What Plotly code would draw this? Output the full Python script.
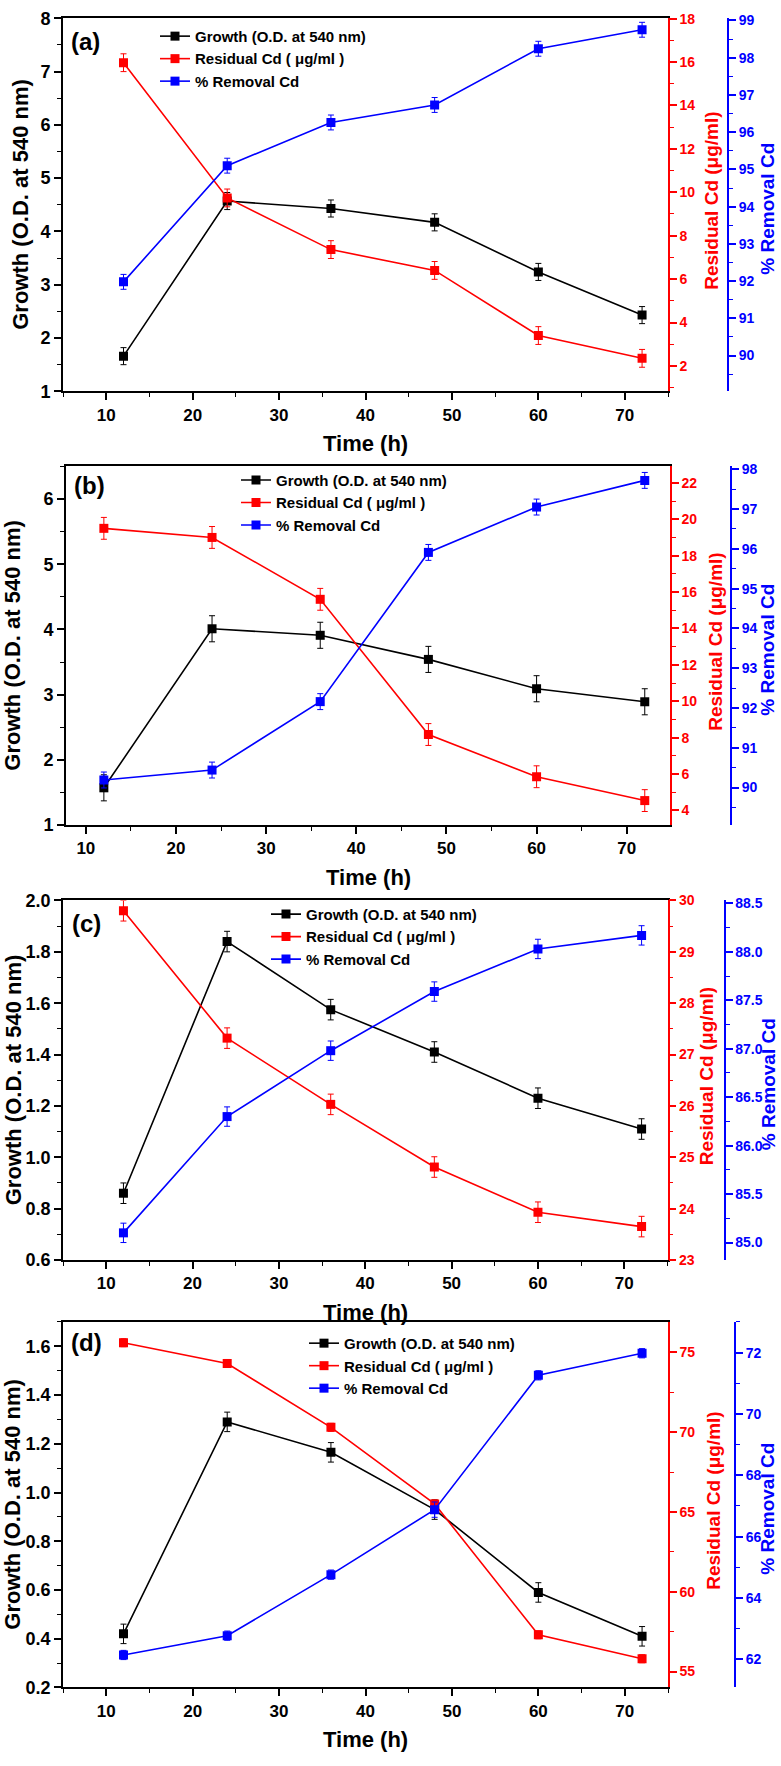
import plotly.graph_objects as go

W, H = 781, 1766

# ---------------- data ----------------
time_h = [12, 24, 36, 48, 60, 72]

a_growth = [1.66, 4.57, 4.43, 4.17, 3.24, 2.43]
a_growth_err = [0.16, 0.16, 0.16, 0.16, 0.16, 0.16]
a_resid = [15.97, 9.74, 7.36, 6.40, 3.40, 2.35]
a_resid_err = [0.41, 0.41, 0.41, 0.41, 0.41, 0.41]
a_removal = [91.98, 95.10, 96.26, 96.73, 98.24, 98.75]
a_removal_err = [0.2, 0.2, 0.2, 0.2, 0.2, 0.2]

b_growth = [1.57, 4.01, 3.91, 3.54, 3.09, 2.89]
b_growth_err = [0.2, 0.2, 0.2, 0.2, 0.2, 0.2]
b_resid = [19.5, 19.0, 15.6, 8.17, 5.85, 4.54]
b_resid_err = [0.6, 0.6, 0.6, 0.6, 0.6, 0.6]
b_removal = [90.19, 90.44, 92.16, 95.91, 97.05, 97.72]
b_removal_err = [0.2, 0.2, 0.2, 0.2, 0.2, 0.2]

c_growth = [0.86, 1.84, 1.575, 1.41, 1.23, 1.11]
c_growth_err = [0.04, 0.04, 0.04, 0.04, 0.04, 0.04]
c_resid = [29.8, 27.32, 26.03, 24.81, 23.93, 23.65]
c_resid_err = [0.2, 0.2, 0.2, 0.2, 0.2, 0.2]
c_removal = [85.10, 86.30, 86.98, 87.59, 88.03, 88.17]
c_removal_err = [0.1, 0.1, 0.1, 0.1, 0.1, 0.1]

d_growth = [0.42, 1.29, 1.165, 0.93, 0.59, 0.41]
d_growth_err = [0.04, 0.04, 0.04, 0.04, 0.04, 0.04]
d_resid = [75.6, 74.3, 70.3, 65.5, 57.3, 55.8]
d_resid_err = [0.25, 0.25, 0.25, 0.25, 0.25, 0.25]
d_removal = [62.14, 62.77, 64.76, 66.88, 71.26, 71.98]
d_removal_err = [0.15, 0.15, 0.15, 0.25, 0.15, 0.15]

panel_labels = ["(a)", "(b)", "(c)", "(d)"]
series_names = ["Growth (O.D. at 540 nm)", "Residual Cd ( \u03bcg/ml )", "% Removal Cd"]
x_title = "Time (h)"
left_title = "Growth (O.D. at 540 nm)"
red_title = "Residual Cd (\u03bcg/ml)"
blue_title = "% Removal Cd"

# ---------------- styling / geometry ----------------
FONT = "Arial, 'Liberation Sans', sans-serif"
RED, BLUE, BLACK = "#ff0000", "#0000ff", "#000000"

panels = [
    dict(g=a_growth, ge=a_growth_err, r=a_resid, re=a_resid_err, b=a_removal, be=a_removal_err,
         geo=(63, 668, 8.3, 385.7, 728), xr=[5, 75],
         yl=dict(range=[1, 8], dtick=1, tick0=1, minor=0.5, fmt=""),
         yr=dict(range=[0.83, 18.02], dtick=2, tick0=0, minor=1, fmt=""),
         yb=dict(range=[89.04, 99.06], dtick=1, tick0=89, minor=0.5, fmt=""),
         leg=(155, 10), lab=(85, 32), ltx=21, rtx=712),
    dict(g=b_growth, ge=b_growth_err, r=b_resid, re=b_resid_err, b=b_removal, be=b_removal_err,
         geo=(66, 670, 461.7, 824.3, 731), xr=[7.8, 74.8],
         yl=dict(range=[1, 6.5], dtick=1, tick0=1, minor=0.5, fmt=""),
         yr=dict(range=[3.2, 22.9], dtick=2, tick0=0, minor=1, fmt=""),
         yb=dict(range=[89.06, 98.07], dtick=1, tick0=89, minor=0.5, fmt=""),
         leg=(236, 459), lab=(89, 481), ltx=13, rtx=716),
    dict(g=c_growth, ge=c_growth_err, r=c_resid, re=c_resid_err, b=c_removal, be=c_removal_err,
         geo=(63, 667.5, 900.7, 1264.3, 724.5), xr=[5, 75],
         yl=dict(range=[0.6, 2.0], dtick=0.2, tick0=0.6, minor=0.1, fmt=".1f"),
         yr=dict(range=[23, 30], dtick=1, tick0=23, minor=0.5, fmt=""),
         yb=dict(range=[84.82, 88.53], dtick=0.5, tick0=85, minor=0.25, fmt=".1f"),
         leg=(266, 898), lab=(86, 924), ltx=13, rtx=706),
    dict(g=d_growth, ge=d_growth_err, r=d_resid, re=d_resid_err, b=d_removal, be=d_removal_err,
         geo=(63, 668, 1327, 1696.7, 735), xr=[5, 75],
         yl=dict(range=[0.2, 1.7], dtick=0.2, tick0=0.2, minor=0.1, fmt=".1f"),
         yr=dict(range=[54.0, 76.9], dtick=5, tick0=55, minor=2.5, fmt=""),
         yb=dict(range=[61.08, 73.0], dtick=2, tick0=62, minor=1, fmt=""),
         leg=(304, 1332), lab=(86, 1348), ltx=13, rtx=714),
]


def fx(p):
    return p / W


def fy(p):
    return 1 - p / H


fig = go.Figure()
layout = dict(
    width=W, height=H, autosize=False,
    margin=dict(l=0, r=0, t=0, b=0),
    paper_bgcolor="white", plot_bgcolor="white",
    font=dict(family=FONT, color=BLACK),
    showlegend=True,
)
annotations = []


def yaxis_common(spec, color, size, lw):
    return dict(
        range=spec["range"], tickmode="linear", tick0=spec["tick0"], dtick=spec["dtick"],
        tickformat=spec["fmt"], ticks="outside", ticklen=7, tickwidth=1.5, tickcolor=color,
        showline=True, linecolor=color, linewidth=lw, showgrid=False, zeroline=False,
        tickfont=dict(family=FONT, size=size, color=color, weight="bold"),
        minor=dict(ticks="outside", ticklen=4, tickwidth=1.2, tickcolor=color,
                   tick0=spec["tick0"], dtick=spec["minor"], showgrid=False),
    )


for i, p in enumerate(panels):
    n = i + 1
    xid = "x" if n == 1 else f"x{n}"
    xkey = "xaxis" if n == 1 else f"xaxis{n}"
    il, ir, ib = 3 * i + 1, 3 * i + 2, 3 * i + 3
    yl_id = "y" if il == 1 else f"y{il}"
    yl_key = "yaxis" if il == 1 else f"yaxis{il}"
    legkey = "legend" if n == 1 else f"legend{n}"
    L, R, T, B, BP = p["geo"]

    layout[xkey] = dict(
        domain=[fx(L), fx(R)], anchor=yl_id, range=p["xr"],
        tickmode="linear", tick0=10, dtick=10, ticks="outside", ticklen=7, tickwidth=1.5,
        tickcolor=BLACK, showline=True, linecolor=BLACK, linewidth=1.6, mirror=True,
        showgrid=False, zeroline=False,
        tickfont=dict(family=FONT, size=17, color=BLACK, weight="bold"),
        minor=dict(ticks="outside", ticklen=4, tickwidth=1.2, tickcolor=BLACK, tick0=5, dtick=5),
    )
    ya = yaxis_common(p["yl"], BLACK, 18, 1.6)
    ya.update(domain=[fy(B), fy(T)], anchor=xid, side="left")
    layout[yl_key] = ya
    yr = yaxis_common(p["yr"], RED, 14, 1.5)
    yr.update(overlaying=yl_id, anchor=xid, side="right")
    layout[f"yaxis{ir}"] = yr
    yb = yaxis_common(p["yb"], BLUE, 14, 2)
    yb.update(overlaying=yl_id, anchor="free", position=fx(BP), side="right")
    layout[f"yaxis{ib}"] = yb

    lx, ly = p["leg"]
    layout[legkey] = dict(
        x=fx(lx), y=fy(ly), xanchor="left", yanchor="top", xref="paper", yref="paper",
        bgcolor="rgba(0,0,0,0)", borderwidth=0, tracegroupgap=0,
        font=dict(family=FONT, size=15, color=BLACK, weight="bold"),
    )

    for vals, errs, color, yid, name in [
        (p["g"], p["ge"], BLACK, yl_id, series_names[0]),
        (p["r"], p["re"], RED, f"y{ir}", series_names[1]),
        (p["b"], p["be"], BLUE, f"y{ib}", series_names[2]),
    ]:
        fig.add_trace(go.Scatter(
            x=time_h, y=vals, name=name, mode="lines+markers",
            xaxis=xid, yaxis=yid, legend=legkey,
            line=dict(color=color, width=1.6),
            marker=dict(symbol="square", size=9, color=color),
            error_y=dict(type="data", array=errs, visible=True, color=color,
                         thickness=1, width=3),
        ))

    # panel label
    labx, laby = p["lab"]
    annotations.append(dict(text=f"<b>{panel_labels[i]}</b>", x=fx(labx), y=fy(laby),
                            xref="paper", yref="paper", showarrow=False,
                            xanchor="center", yanchor="middle",
                            font=dict(family=FONT, size=24, color=BLACK)))
    # x title
    annotations.append(dict(text=f"<b>{x_title}</b>", x=fx((L + R) / 2), y=fy(B + 53),
                            xref="paper", yref="paper", showarrow=False,
                            xanchor="center", yanchor="middle",
                            font=dict(family=FONT, size=22, color=BLACK)))
    mid = (T + B) / 2
    annotations.append(dict(text=f"<b>{left_title}</b>", x=fx(p["ltx"]), y=fy(mid),
                            xref="paper", yref="paper", showarrow=False, textangle=-90,
                            xanchor="center", yanchor="middle",
                            font=dict(family=FONT, size=22, color=BLACK)))
    annotations.append(dict(text=f"<b>{red_title}</b>", x=fx(p["rtx"]), y=fy(mid - 4),
                            xref="paper", yref="paper", showarrow=False, textangle=-90,
                            xanchor="center", yanchor="middle",
                            font=dict(family=FONT, size=19, color=RED)))
    annotations.append(dict(text=f"<b>{blue_title}</b>", x=fx(768), y=fy(mid + 4),
                            xref="paper", yref="paper", showarrow=False, textangle=-90,
                            xanchor="center", yanchor="middle",
                            font=dict(family=FONT, size=19, color=BLUE)))

layout["annotations"] = annotations
fig.update_layout(**layout)
fig.write_html(
    "out.html",
    config={"displayModeBar": False},
    post_script="document.body.style.margin='0px';document.body.style.padding='0px';",
)
